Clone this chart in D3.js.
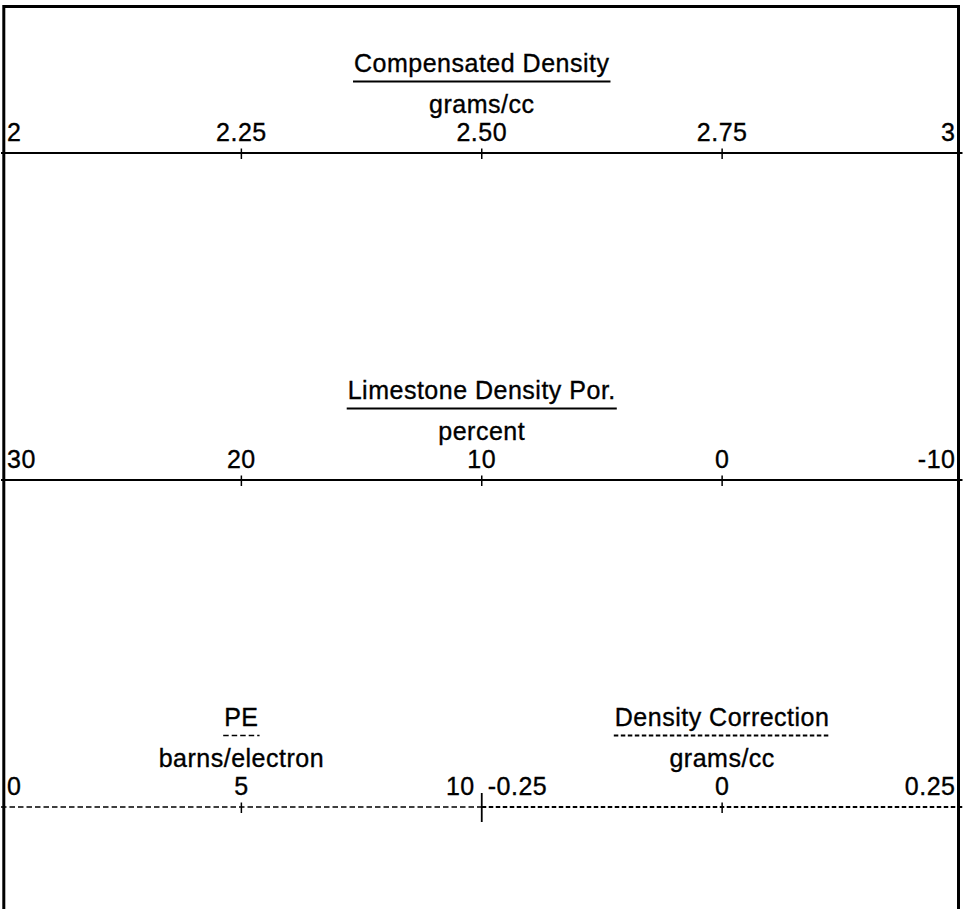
<!DOCTYPE html>
<html>
<head>
<meta charset="utf-8">
<script src="https://cdn.jsdelivr.net/npm/d3@7"></script>
<style>
  html, body { margin: 0; padding: 0; background: #fff; }
  svg { display: block; }
  text { font-family: "Liberation Sans", Arial, sans-serif; fill: #000; stroke: #000; stroke-width: 0.35px; letter-spacing: 0.5px; }
</style>
</head>
<body>
<svg id="header" width="963" height="909"></svg>
<script>
// Log header: curve names, units and scale ticks for each track row
const rowNames   = ["Compensated Density", "Limestone Density Por.", "PE", "Density Correction"];
const rowUnits   = ["grams/cc", "percent", "barns/electron", "grams/cc"];
const densityTicks  = [2, 2.25, 2.50, 2.75, 3];
const densityLabels = ["2", "2.25", "2.50", "2.75", "3"];
const porosityTicks  = [30, 20, 10, 0, -10];
const porosityLabels = ["30", "20", "10", "0", "-10"];
const peTicks  = [0, 5, 10];
const peLabels = ["0", "5", "10"];
const corrTicks  = [-0.25, 0, 0.25];
const corrLabels = ["-0.25", "0", "0.25"];

const W = 963, H = 909;
const svg = d3.select("#header");
const FS = 25;

const xLeft = 1, xRight = 962.5, xMid = (xLeft + xRight) / 2;
const rowY = [153, 480, 807];

// each curve: its scale, row, line style
const curves = [
  { name: rowNames[0], unit: rowUnits[0], ticks: densityTicks, labels: densityLabels,
    x: d3.scaleLinear().domain([2, 3]).range([xLeft, xRight]), row: 0, dash: null, width: 2 },
  { name: rowNames[1], unit: rowUnits[1], ticks: porosityTicks, labels: porosityLabels,
    x: d3.scaleLinear().domain([30, -10]).range([xLeft, xRight]), row: 1, dash: null, width: 2 },
  { name: rowNames[2], unit: rowUnits[2], ticks: peTicks, labels: peLabels,
    x: d3.scaleLinear().domain([0, 10]).range([xLeft, xMid]), row: 2, dash: "5.5,3", width: 1.3 },
  { name: rowNames[3], unit: rowUnits[3], ticks: corrTicks, labels: corrLabels,
    x: d3.scaleLinear().domain([-0.25, 0.25]).range([xMid, xRight]), row: 2, dash: "4.5,2.5", width: 2.2 }
];

curves.forEach(c => {
  const y = rowY[c.row];
  const [r0, r1] = c.x.range();
  const cx = (r0 + r1) / 2;
  const g = svg.append("g");

  // scale line
  g.append("line")
    .attr("x1", r0).attr("x2", r1).attr("y1", y).attr("y2", y)
    .attr("stroke", "#000").attr("stroke-width", c.width)
    .attr("stroke-dasharray", c.dash);

  // interior tick marks
  c.ticks.slice(1, -1).forEach(t => {
    g.append("line")
      .attr("x1", c.x(t)).attr("x2", c.x(t))
      .attr("y1", y - 4.5).attr("y2", y + 6)
      .attr("stroke", "#000").attr("stroke-width", 1.5);
  });

  // tick labels: ends aligned inside the track, middle ones centred
  const n = c.ticks.length;
  c.ticks.forEach((t, i) => {
    let anchor = "middle", tx = c.x(t);
    if (i === 0) { anchor = "start"; tx = c.x(t) + 6; }
    else if (i === n - 1) { anchor = "end"; tx = c.x(t) - 7; }
    g.append("text")
      .attr("x", tx).attr("y", y - 12)
      .attr("text-anchor", anchor)
      .attr("font-size", FS)
      .text(c.labels[i]);
  });

  // units
  g.append("text")
    .attr("x", cx).attr("y", y - 40)
    .attr("text-anchor", "middle").attr("font-size", FS)
    .text(c.unit);

  // curve name with underline in the curve's line style
  const title = g.append("text")
    .attr("x", cx).attr("y", y - 81)
    .attr("text-anchor", "middle").attr("font-size", FS)
    .text(c.name);
  const tw = title.node().getComputedTextLength();
  g.append("line")
    .attr("x1", cx - tw / 2 - 1).attr("x2", cx + tw / 2 + 1)
    .attr("y1", y - 71.5).attr("y2", y - 71.5)
    .attr("stroke", "#000").attr("stroke-width", c.width)
    .attr("stroke-dasharray", c.dash);
});

// long divider tick between the two halves of the bottom row
svg.append("line")
  .attr("x1", xMid).attr("x2", xMid)
  .attr("y1", rowY[2] - 14).attr("y2", rowY[2] + 15)
  .attr("stroke", "#000").attr("stroke-width", 1.8);

// header frame: top, left and right edges
svg.append("path")
  .attr("d", `M3.8,${H} L3.8,6.5 L958.5,6.5 L958.5,${H}`)
  .attr("fill", "none").attr("stroke", "#000").attr("stroke-width", 3);
</script>
</body>
</html>
